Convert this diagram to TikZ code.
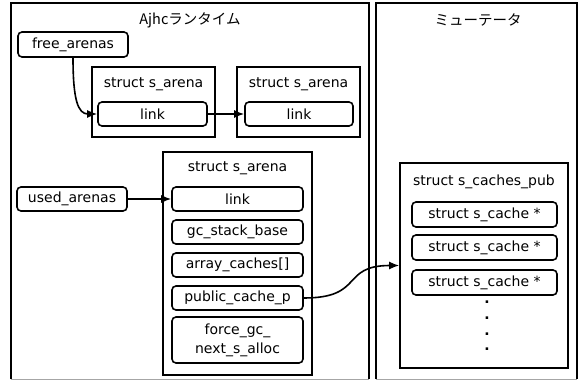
\documentclass[tikz,border=0pt]{standalone}
\usepackage{fontspec}
\setmainfont{DejaVu Sans}
\newfontfamily\jpfont{Noto Sans CJK JP}
\usetikzlibrary{arrows.meta}
\begin{document}
\begin{tikzpicture}[x=1pt,y=-1pt,
  font=\fontsize{14}{16}\selectfont,
  panel/.style={draw=none,rectangle,inner sep=0pt},
  frame/.style={draw,line width=1.6pt,rectangle,inner sep=0pt},
  field/.style={draw,line width=1.6pt,rounded corners=4pt,inner sep=0pt,align=center},
  label/.style={inner sep=0pt},
  conn/.style={line width=1.6pt,-{Latex[length=10pt,width=8pt]}}]
\useasboundingbox (0,0) rectangle (579,383);
\fill[white] (0,0) rectangle (579,383);

% the two outer panels
\node[panel,minimum width=358pt,minimum height=376pt] (rt) at (190,191) {};
\node[panel,minimum width=201pt,minimum height=376pt] (mu) at (476.5,191) {};
\foreach \p in {rt,mu}{
  \draw[line width=1.5pt] (\p.south west) |- (\p.north east) -- (\p.south east);
  \draw[line width=1.2pt,gray!70] (\p.south west) -- (\p.south east);
}
\node[label,font=\jpfont\fontsize{14.5}{16}\selectfont] (rttitle) at (190,20) {Ajhcランタイム};
\node[label,font=\jpfont\fontsize{14.5}{16}\selectfont] (mutitle) at (478,20) {ミューテータ};

% free list
\node[field,minimum width=110pt,minimum height=25pt] (free) at (73,44.5) {free\_arenas};
\node[frame,minimum width=123pt,minimum height=70pt] (ar1) at (153.5,102) {};
\node[label] (ar1t) at (153.5,84) {struct s\_arena};
\node[field,minimum width=109pt,minimum height=24pt] (link1) at (152.5,114) {link};
\node[frame,minimum width=123pt,minimum height=70pt] (ar2) at (298.5,102) {};
\node[label] (ar2t) at (298.5,84) {struct s\_arena};
\node[field,minimum width=108pt,minimum height=24pt] (link2) at (299,114) {link};

% used arena
\node[field,minimum width=110pt,minimum height=24pt] (used) at (72,199) {used\_arenas};
\node[frame,minimum width=149pt,minimum height=223pt] (ar3) at (237.5,263.5) {};
\node[label] (ar3t) at (237.5,168) {struct s\_arena};
\node[field,minimum width=131pt,minimum height=24pt] (link3) at (237.5,199) {link};
\node[field,minimum width=131pt,minimum height=24pt] (gc) at (237.5,232) {gc\_stack\_base};
\node[field,minimum width=131pt,minimum height=24pt] (arr) at (237.5,265) {array\_caches[]};
\node[field,minimum width=131pt,minimum height=24pt] (pub) at (237.5,298) {public\_cache\_p};
\node[field,minimum width=131pt,minimum height=46pt] (force) at (237.5,340) {force\_gc\_\\[3pt]next\_s\_alloc};

% mutator side
\node[frame,minimum width=168pt,minimum height=205pt] (cp) at (484,265.5) {};
\node[label] (cpt) at (484,182) {struct s\_caches\_pub};
\node[field,minimum width=145pt,minimum height=25pt] (c1) at (484.5,214.5) {struct s\_cache *};
\node[field,minimum width=145pt,minimum height=25pt] (c2) at (484.5,247.5) {struct s\_cache *};
\node[field,minimum width=145pt,minimum height=25pt] (c3) at (484.5,282.5) {struct s\_cache *};
\node[label,align=center,font=\bfseries\fontsize{14}{15.6}\selectfont] (dots) at (487,326) {.\\.\\.\\.};

% pointers
\draw[conn] (free.south) .. controls (73,100) and (78,114) .. (link1.west);
\draw[conn] (link1.east) -- (link2.west);
\draw[conn] (used.east) -- (link3.west);
\draw[conn] (pub.east) .. controls (365,298) and (340,265.5) .. (cp.west);
\end{tikzpicture}
\end{document}
